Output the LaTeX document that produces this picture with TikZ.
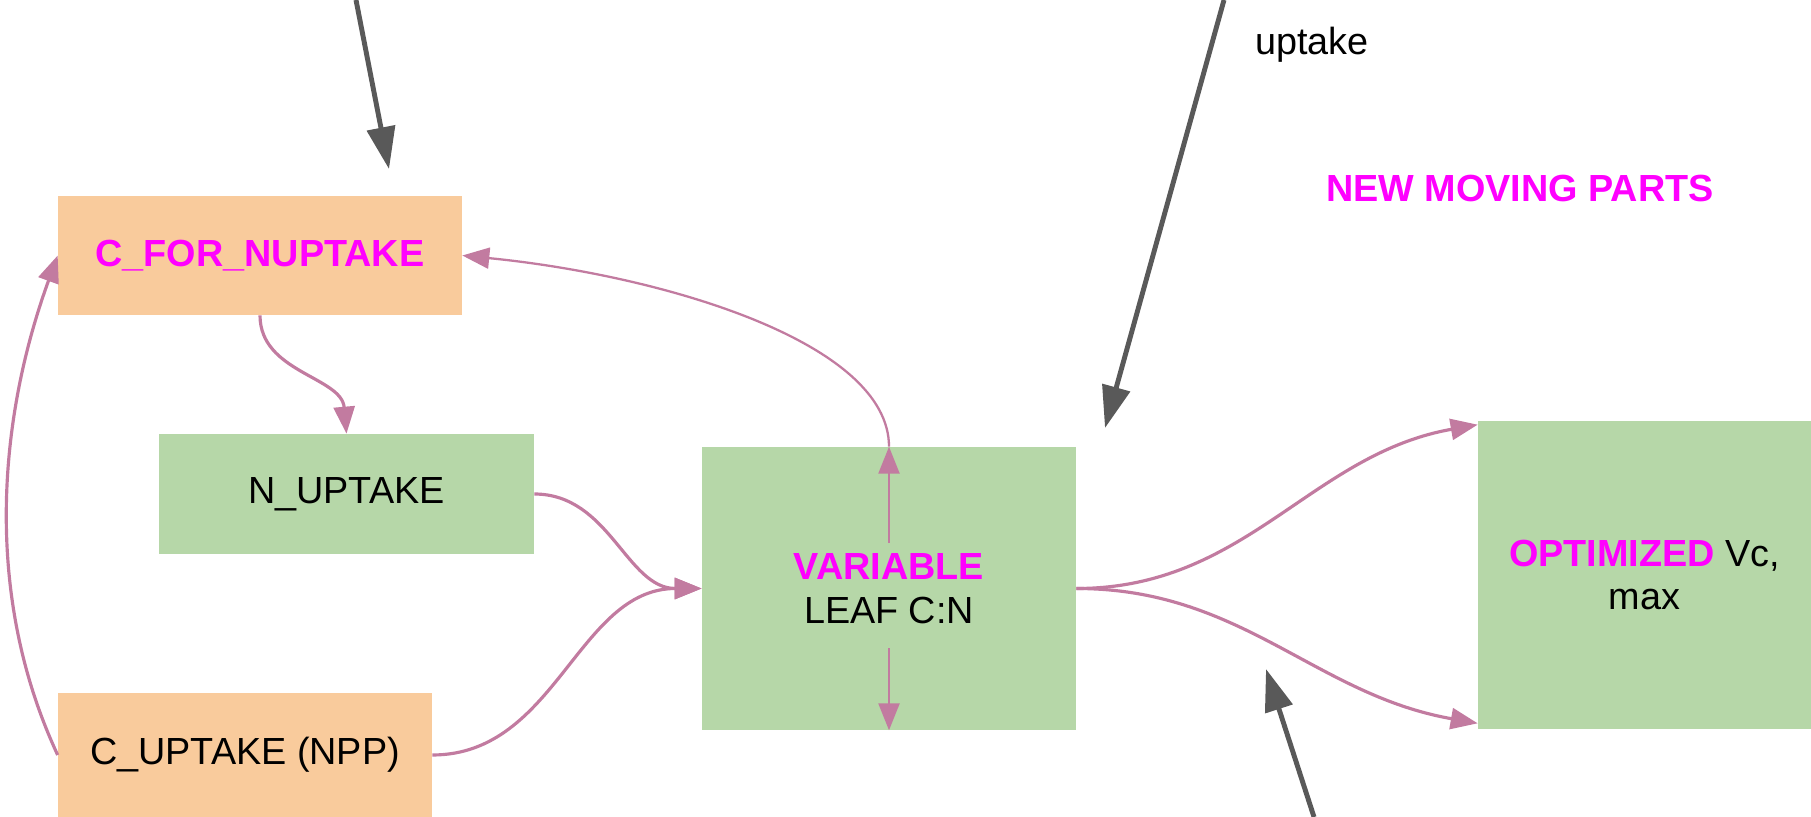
\documentclass[tikz,border=0pt]{standalone}
\usepackage{fontspec}
\setmainfont{Liberation Sans}
\usetikzlibrary{arrows.meta}

\begin{document}
\begin{tikzpicture}[x=0.02cm,y=0.02cm,>=Latex,font=\fontsize{21.5}{25}\selectfont,
  orangebox/.style={fill=orangefill,draw=none,inner sep=0pt,align=center},
  greenbox/.style={fill=greenfill,draw=none,inner sep=0pt,align=center},
  flow/.style={draw=flowpink,line width=1.8pt,-{Triangle[length=0.54cm,width=0.42cm]}},
  thinflow/.style={flow,line width=1.3pt},
  pointer/.style={draw=pointergray,line width=2.8pt,-{Triangle[length=0.84cm,width=0.56cm]}},
  hot/.style={text=hotpink,font=\fontsize{21.5}{25}\selectfont\bfseries}]
\definecolor{orangefill}{HTML}{F9CB9C}
\definecolor{greenfill}{HTML}{B6D7A8}
\definecolor{hotpink}{HTML}{FF00FF}
\definecolor{flowpink}{HTML}{C27BA0}
\definecolor{pointergray}{HTML}{595959}
\useasboundingbox (0,0) rectangle (1811,-817);
\node[orangebox,minimum width=8.08cm,minimum height=2.38cm] (cfor) at (260,-255.5) {\color{hotpink}\bfseries C\_FOR\_NUPTAKE};
\node[greenbox,minimum width=7.5cm,minimum height=2.4cm] (nup) at (346.5,-494) {N\_UPTAKE};
\node[orangebox,minimum width=7.48cm,minimum height=2.48cm] (cup) at (245,-755) {C\_UPTAKE (NPP)};
\node[greenbox,minimum width=7.48cm,minimum height=5.66cm] (var) at (889,-588.5) {{\color{hotpink}\bfseries VARIABLE}\\LEAF C:N};
\node[greenbox,minimum width=6.66cm,minimum height=6.16cm] (opt) at (1644.5,-575) {{\color{hotpink}\bfseries OPTIMIZED} Vc,\\max};
\node[hot,anchor=base] (parts) at (1520,-202) {NEW MOVING PARTS};
\node[anchor=base west,inner sep=0pt] (uptk) at (1255,-55) {uptake};
\coordinate (g1a) at (356,0);
\coordinate (g1b) at (389,-169);
\coordinate (g2a) at (1224,0);
\coordinate (g2b) at (1105,-428);
\coordinate (g3a) at (1314,-817);
\coordinate (g3b) at (1266,-669);
\coordinate (vtop) at (889,-543);
\coordinate (vbot) at (889,-648);
\draw[pointer] (g1a) -- (g1b);
\draw[pointer] (g2a) -- (g2b);
\draw[pointer] (g3a) -- (g3b);
\draw[flow] (cfor.south) to[out=-90,in=95] (nup.north);
\draw[flow] (nup.east) to[out=0,in=180] (var.west);
\draw[flow] (cup.east) to[out=0,in=180] (var.west);
\draw[flow] (cup.west) to[out=115,in=-110,looseness=0.9] (cfor.west);
\draw[thinflow] (vtop) -- (var.north);
\draw[thinflow] (vbot) -- (var.south);
\draw[thinflow] (var.north) .. controls +(0,105) and +(198,-19.5) .. (cfor.east);
\draw[flow] (var.east) to[out=0,in=190] ([yshift=-0.08cm]opt.north west);
\draw[flow] (var.east) to[out=0,in=170] ([yshift=0.12cm]opt.south west);
\end{tikzpicture}
\end{document}
